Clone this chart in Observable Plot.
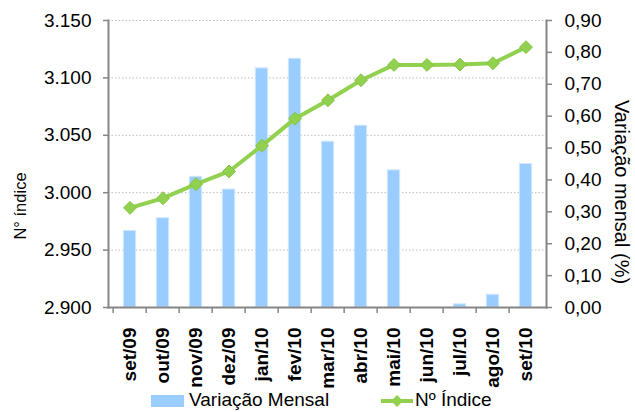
<!DOCTYPE html>
<html>
<head>
<meta charset="utf-8">
<script src="https://cdn.jsdelivr.net/npm/d3@7"></script>
<script src="https://cdn.jsdelivr.net/npm/@observablehq/plot@0.6"></script>
<style>
  html, body { margin: 0; padding: 0; background: #fff; overflow: hidden; }
  #chart { width: 635px; }
  .legend { position: relative; width: 635px; height: 22px; font-family: "Liberation Sans", Arial, sans-serif; font-size: 19px; color: #000; }
  .legend .item { position: absolute; top: 0; line-height: 20px; white-space: nowrap; }
  .legend .swatch { position: absolute; }
</style>
</head>
<body>
<div id="chart"></div>
<div class="legend">
  <div class="swatch" style="left:151px; top:5px; width:33px; height:12px; background:#99ccff;"></div>
  <div class="item" style="left:189px;">Variação Mensal</div>
  <svg class="swatch" style="left:380px; top:3px;" width="34" height="16">
    <line x1="1" y1="8" x2="33" y2="8" stroke="#92d050" stroke-width="4"></line>
    <path d="M17,2 L23,8 L17,14 L11,8 Z" fill="#92d050"></path>
  </svg>
  <div class="item" style="left:415px;">Nº Índice</div>
</div>
<script>
// Months (Sep 2009 – Sep 2010)
const months = ["set/09", "out/09", "nov/09", "dez/09", "jan/10", "fev/10", "mar/10",
                "abr/10", "mai/10", "jun/10", "jul/10", "ago/10", "set/10"];
// Index number (left axis)
const indice = [2986.8, 2995.2, 3007.4, 3018.5, 3041.0, 3064.5, 3080.5,
                3098.0, 3111.3, 3111.3, 3111.6, 3112.8, 3126.8];
// Monthly variation in % (right axis)
const variacao = [0.24, 0.28, 0.41, 0.37, 0.75, 0.78, 0.52, 0.57, 0.43, 0.00, 0.01, 0.04, 0.45];

const leftTicks = [2900, 2950, 3000, 3050, 3100, 3150];
const rightTicks = [0, 0.1, 0.2, 0.3, 0.4, 0.5, 0.6, 0.7, 0.8, 0.9];

const rows = months.map((mes, i) => ({mes, indice: indice[i], variacao: variacao[i]}));

// Map the right-axis (%) scale onto the left-axis domain
const yDomain = [leftTicks[0], leftTicks[leftTicks.length - 1]];
const rDomain = [rightTicks[0], rightTicks[rightTicks.length - 1]];
const toLeft = v => yDomain[0] + (v - rDomain[0]) / (rDomain[1] - rDomain[0]) * (yDomain[1] - yDomain[0]);
const fromLeft = y => rDomain[0] + (y - yDomain[0]) / (yDomain[1] - yDomain[0]) * (rDomain[1] - rDomain[0]);

const pt = d3.formatLocale({decimal: ",", thousands: ".", grouping: [3], currency: ["R$ ", ""]});
const fmtLeft = pt.format(",.0f");
const fmtRight = pt.format(".2f");

const width = 635, height = 390;
const margin = {top: 20, right: 89, bottom: 83, left: 108};
const band = (width - margin.left - margin.right) / months.length;
const axisGray = "#868686";

const chart = Plot.plot({
  width, height,
  marginTop: margin.top, marginRight: margin.right, marginBottom: margin.bottom, marginLeft: margin.left,
  style: {fontFamily: "'Liberation Sans', Arial, sans-serif", fontSize: "19px", color: "#000", background: "#fff", overflow: "visible"},
  x: {type: "band", domain: months, padding: 0, axis: null},
  y: {domain: yDomain, axis: null},
  marks: [
    Plot.gridY(leftTicks.slice(1), {stroke: "#bdbdbd", strokeOpacity: 1, strokeWidth: 1, strokeDasharray: "1.5,2"}),
    Plot.barY(rows, {x: "mes", y1: () => yDomain[0], y2: d => toLeft(d.variacao),
      fill: "#99ccff", stroke: "#d2e8ff", strokeWidth: 1, insetLeft: 10.3, insetRight: 10.3}),
    Plot.frame({anchor: "left", stroke: axisGray, strokeWidth: 2}),
    Plot.frame({anchor: "right", stroke: axisGray, strokeWidth: 2}),
    Plot.frame({anchor: "bottom", stroke: axisGray, strokeWidth: 2}),
    Plot.axisY(leftTicks, {anchor: "left", tickSize: 5, tickPadding: 12, tickFormat: fmtLeft,
      stroke: axisGray, strokeWidth: 1.5, fill: "#000", fontSize: 19, label: null}),
    Plot.axisY(rightTicks.map(toLeft), {anchor: "right", tickSize: 5, tickPadding: 13,
      tickFormat: d => fmtRight(fromLeft(d)), stroke: axisGray, strokeWidth: 1.5, fill: "#000", fontSize: 19, label: null}),
    // tick marks at the band boundaries
    Plot.axisX({anchor: "bottom", tickSize: 6, tickFormat: () => "", dx: -band / 2,
      stroke: axisGray, strokeWidth: 1.5, label: null}),
    Plot.axisX({anchor: "bottom", tickSize: 0, tickPadding: 20, tickRotate: -90,
      fontWeight: "bold", fontSize: 19, fill: "#000", label: null}),
    Plot.line(rows, {x: "mes", y: "indice", stroke: "#92d050", strokeWidth: 4}),
    Plot.dot(rows, {x: "mes", y: "indice", symbol: "diamond2", r: 5.8, fill: "#92d050", stroke: "#85c441", strokeWidth: 1}),
    Plot.text(["N° índice"], {frameAnchor: "left", dx: -88, dy: 42, rotate: -90, textAnchor: "middle", fontSize: 16.5, fill: "#000"}),
    Plot.text(["Variação mensal (%)"], {frameAnchor: "right", dx: 75, dy: 28, rotate: 90, textAnchor: "middle", fontSize: 20, fill: "#000"})
  ]
});
document.getElementById("chart").appendChild(chart);
</script>
</body>
</html>
